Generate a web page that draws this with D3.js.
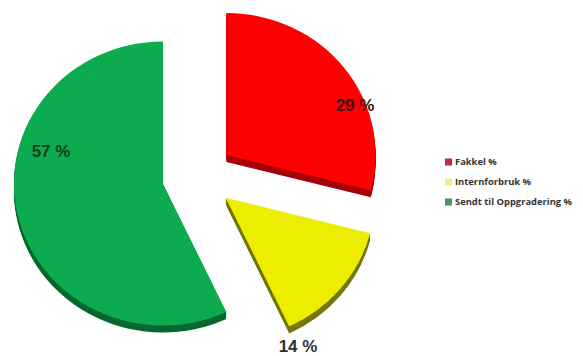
<!DOCTYPE html>
<html>
<head>
<meta charset="utf-8">
<script src="https://cdn.jsdelivr.net/npm/d3@7/dist/d3.min.js"></script>
<style>
html,body{margin:0;padding:0;background:#fff;}
svg{display:block;}
text{font-family:"Open Sans",sans-serif;font-weight:700;}
text.value{font-family:"Liberation Sans",sans-serif;}
</style>
</head>
<body>
<svg id="chart" width="583" height="356"></svg>
<script>
const categories = ["Fakkel %", "Internforbruk %", "Sendt til Oppgradering %"];
const shares = [29, 14, 57];
const valueLabels = ["29 %", "14 %", "57 %"];

const topColors = ["#fe0000", "#eded00", "#0cab50"];
const sideColors = ["#a50008", "#77750a", "#06682f"];
const legendColors = ["#c2264e", "#f2ee8e", "#3f9a5c"];

// Layout of the exploded, slightly tilted pie
const centre = {x: 198, y: 176};
const radiusX = 149, radiusY = 142, explode = 36, depth = 7;
const labelAnchors = [[355, 111], [298, 352], [51, 157]];

const svg = d3.select("#chart");
const pie = d3.pie().sort(null).value(d => d);
const arcs = pie(shares);
// Unit arc: squashed to an ellipse by the transform on each layer
const arc = d3.arc().innerRadius(0).outerRadius(1);

const slices = svg.selectAll("g.slice").data(arcs).join("g")
  .attr("class", "slice")
  .attr("transform", d => {
    const mid = (d.startAngle + d.endAngle) / 2;
    const dx = explode * Math.sin(mid);
    const dy = -explode * Math.cos(mid) * radiusY / radiusX;
    return `translate(${centre.x + dx},${centre.y + dy})`;
  });

// Extruded side: stacked copies of the slice in the darker colour
slices.each(function (d, i) {
  const g = d3.select(this);
  d3.range(depth, 0, -1).forEach(offset => {
    g.append("path")
      .attr("d", arc(d))
      .attr("fill", sideColors[i])
      .attr("transform", `translate(0,${offset}) scale(${radiusX},${radiusY})`);
  });
  g.append("path")
    .attr("d", arc(d))
    .attr("fill", topColors[i])
    .attr("transform", `scale(${radiusX},${radiusY})`);
});

// Value labels
svg.selectAll("text.value").data(valueLabels).join("text")
  .attr("class", "value")
  .attr("x", (d, i) => labelAnchors[i][0])
  .attr("y", (d, i) => labelAnchors[i][1])
  .attr("text-anchor", "middle")
  .attr("font-size", 17)
  .attr("fill", (d, i) => ["#3a1010", "#2e2e2e", "#06401f"][i])
  .text(d => d);

// Legend
const legendRow = d3.scalePoint().domain(categories).range([162, 202]);
const legend = svg.selectAll("g.legend").data(categories).join("g")
  .attr("class", "legend")
  .attr("transform", d => `translate(445,${legendRow(d)})`);
legend.append("rect")
  .attr("x", 0).attr("y", -3.5)
  .attr("width", 7).attr("height", 7)
  .attr("fill", (d, i) => legendColors[i]);
legend.append("text")
  .attr("x", 10)
  .attr("dominant-baseline", "middle")
  .attr("font-size", 9.4)
  .attr("fill", "#333")
  .text(d => d);
</script>
</body>
</html>
